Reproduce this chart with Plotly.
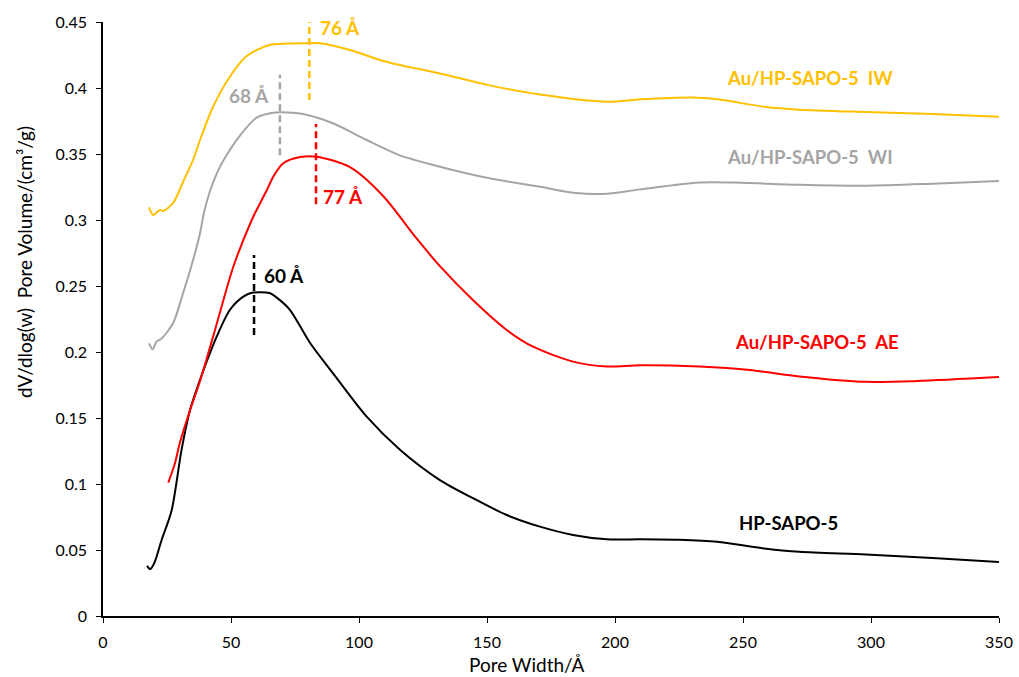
import plotly.graph_objects as go

# ---- data ----
hp_x = [17.2, 18.4, 20, 22.9, 26.8, 30.7, 34, 37.9, 39.2, 44.4, 49.6, 54.8, 58.6, 65, 68, 73, 80.9, 89.8,
        103, 116, 131.6, 144.7, 157.7, 170.7, 183.6, 196.8, 209.8, 225, 240, 257, 272, 298, 324, 350]
hp_y = [0.038, 0.0356, 0.040, 0.0576, 0.080, 0.126, 0.156, 0.179, 0.186, 0.2116, 0.232, 0.242, 0.245,
        0.2447, 0.241, 0.232, 0.2068, 0.184, 0.151, 0.126, 0.103, 0.0891, 0.0765, 0.0677, 0.0614,
        0.0581, 0.0581, 0.0577, 0.0562, 0.0515, 0.0486, 0.0466, 0.0439, 0.041]

ae_x = [25.5, 28.1, 30, 34, 37.9, 43.75, 47, 50.9, 58.1, 60, 64, 66.5, 70.4, 77, 83.5, 96.5, 109.5,
        122.5, 131.6, 144.7, 157.7, 168, 183.6, 196.8, 209.8, 233, 252.7, 272, 298, 318, 350]
ae_y = [0.101, 0.1157, 0.131, 0.156, 0.178, 0.2167, 0.239, 0.2646, 0.300, 0.3076, 0.3227, 0.3328,
        0.343, 0.3477, 0.348, 0.340, 0.318, 0.286, 0.265, 0.239, 0.2167, 0.204, 0.1927, 0.189, 0.190,
        0.189, 0.1864, 0.1815, 0.1774, 0.178, 0.181]

wi_x = [18, 19.4, 20.9, 22.9, 27.4, 31.3, 35.2, 37.9, 39.5, 41.8, 44.4, 47, 53.5, 60, 66.4, 72, 78.1, 89.8,
        103, 116, 131.6, 151, 170.7, 183.6, 195.3, 209.8, 233, 246, 272, 298, 324, 350]
wi_y = [0.2066, 0.202, 0.2078, 0.2102, 0.222, 0.2447, 0.2697, 0.290, 0.306, 0.322, 0.335, 0.345, 0.364,
        0.3775, 0.3813, 0.3815, 0.3803, 0.3733, 0.3606, 0.349, 0.3404, 0.3316, 0.3252, 0.3207, 0.3197,
        0.3232, 0.3284, 0.3284, 0.3267, 0.326, 0.3275, 0.3295]

iw_x = [18, 19.6, 22.3, 23.5, 27.4, 31.3, 35.2, 37.9, 43, 49.6, 56, 65, 72, 79.6, 84.8, 96.5, 109.4, 131.6,
        151, 170.7, 196.8, 209.8, 230, 240, 259, 272, 298, 324, 350]
iw_y = [0.3096, 0.3038, 0.3076, 0.3068, 0.3129, 0.329, 0.3455, 0.3606, 0.3858, 0.4087, 0.424, 0.4326,
        0.4337, 0.4339, 0.4339, 0.4288, 0.4205, 0.411, 0.402, 0.395, 0.3896, 0.3914, 0.3928, 0.3914,
        0.3856, 0.3836, 0.3818, 0.3803, 0.3783]

series_names = ["HP-SAPO-5", "Au/HP-SAPO-5  AE", "Au/HP-SAPO-5  WI", "Au/HP-SAPO-5  IW"]
series_colors = ["#000000", "#FF0000", "#A5A5A5", "#FFC000"]
label_x = [267.6, 279, 276, 276]
label_y = [0.0705, 0.2076, 0.3477, 0.4076]

# peak markers (dashed lines) and their labels
peak_text = ["60 Å", "77 Å", "68 Å", "76 Å"]
peak_line_x = [59, 83.2, 69.1, 80.6]
peak_line_y0 = [0.2129, 0.312, 0.349, 0.391]
peak_line_y1 = [0.2735, 0.3727, 0.41, 0.4515]
peak_label_x = [62.3, 85.3, 65.5, 84]
peak_label_y = [0.2583, 0.318, 0.394, 0.4455]
peak_label_anchor = ["left", "left", "right", "left"]

x_ticks = [0, 50, 100, 150, 200, 250, 300, 350]
y_ticks = [0, 0.05, 0.1, 0.15, 0.2, 0.25, 0.3, 0.35, 0.4, 0.45]
y_tick_labels = ["0", "0.05", "0.1", "0.15", "0.2", "0.25", "0.3", "0.35", "0.4", "0.45"]

x_title = "Pore Width/Å"
y_title = "dV/dlog(w)&nbsp;&nbsp;Pore Volume/(cm³/g)"

FONT = "Lato, 'Open Sans', sans-serif"

fig = go.Figure()
all_x = [hp_x, ae_x, wi_x, iw_x]
all_y = [hp_y, ae_y, wi_y, iw_y]
for xs, ys, name, col in zip(all_x, all_y, series_names, series_colors):
    fig.add_trace(go.Scatter(x=xs, y=ys, mode="lines", name=name,
                             line=dict(color=col, width=2, shape="spline", smoothing=0.8),
                             showlegend=False))

for i in range(4):
    fig.add_trace(go.Scatter(x=[peak_line_x[i], peak_line_x[i]], y=[peak_line_y0[i], peak_line_y1[i]],
                             mode="lines", line=dict(color=series_colors[i], width=2.5, dash="7px,4px"),
                             showlegend=False, hoverinfo="skip"))
    fig.add_annotation(x=peak_label_x[i], y=peak_label_y[i], text="<b>%s</b>" % peak_text[i],
                       showarrow=False, xanchor=peak_label_anchor[i], yanchor="middle",
                       font=dict(family=FONT, size=19, color=series_colors[i]))
    fig.add_annotation(x=label_x[i], y=label_y[i],
                       text="<b>%s</b>" % series_names[i].replace("  ", "&nbsp;&nbsp;"),
                       showarrow=False, xanchor="center", yanchor="middle",
                       font=dict(family=FONT, size=18.5, color=series_colors[i]))

# axis titles as annotations (positioned like the reference)
fig.add_annotation(xref="paper", yref="paper", x=(527 - 103) / 896, y=-(664 - 616) / 594,
                   text=x_title, showarrow=False, xanchor="center", yanchor="middle", borderpad=0,
                   font=dict(family=FONT, size=19, color="black"))
fig.add_annotation(xref="paper", yref="paper", x=-(103 - 24) / 896, y=(616 - 262) / 594,
                   text=y_title, showarrow=False, xanchor="center", yanchor="middle", textangle=-90,
                   borderpad=0, font=dict(family=FONT, size=19, color="black"))

fig.update_layout(
    width=1019, height=677,
    margin=dict(l=103, r=20, t=22, b=61),
    paper_bgcolor="white", plot_bgcolor="white",
    font=dict(family=FONT, size=16, color="#000000"),
    xaxis=dict(range=[0, 350], tickvals=x_ticks, ticks="outside", ticklen=5, tickcolor="black",
               showline=True, linecolor="black", linewidth=1.5, showgrid=False, zeroline=False,
               automargin=False, ticklabelstandoff=6, tickfont=dict(size=16)),
    yaxis=dict(range=[0, 0.45], tickvals=y_ticks, ticktext=y_tick_labels, ticks="outside", ticklen=5,
               tickcolor="black", showline=True, linecolor="black", linewidth=1.5, showgrid=False,
               zeroline=False, automargin=False, ticklabelstandoff=6, tickfont=dict(size=16)),
)

fig.write_html("out.html")
